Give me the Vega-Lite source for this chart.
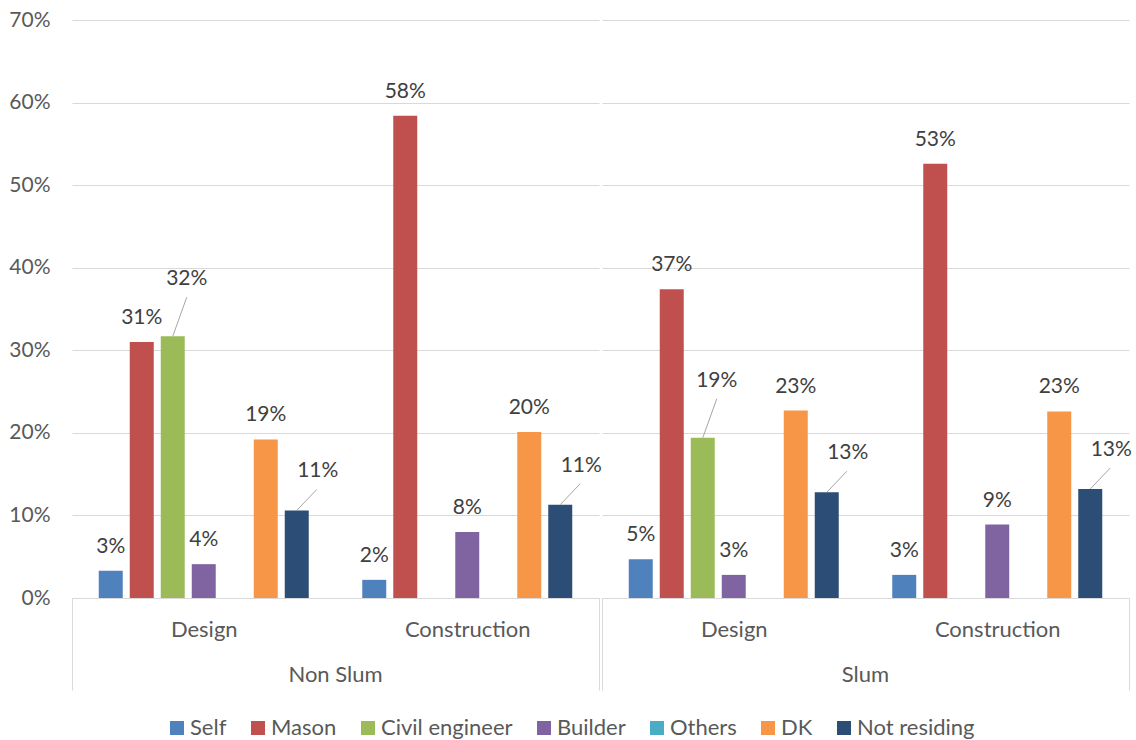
{
  "$schema": "https://vega.github.io/schema/vega-lite/v6.json",
  "background": "white",
  "padding": {"left": 8, "top": 9, "right": 9, "bottom": 5},
  "spacing": 0,
  "config": {
    "font": "Lato",
    "view": {"stroke": null},
    "legend": {"layout": {"bottom": {"anchor": "middle"}}}
  },
  "data": {
    "values": [
      {"Area": "Non Slum", "Phase": "Design", "Source": "Self", "Share": 0.033},
      {"Area": "Non Slum", "Phase": "Design", "Source": "Mason", "Share": 0.310},
      {"Area": "Non Slum", "Phase": "Design", "Source": "Civil engineer", "Share": 0.317},
      {"Area": "Non Slum", "Phase": "Design", "Source": "Builder", "Share": 0.041},
      {"Area": "Non Slum", "Phase": "Design", "Source": "Others", "Share": 0},
      {"Area": "Non Slum", "Phase": "Design", "Source": "DK", "Share": 0.192},
      {"Area": "Non Slum", "Phase": "Design", "Source": "Not residing", "Share": 0.106},
      {"Area": "Non Slum", "Phase": "Construction", "Source": "Self", "Share": 0.022},
      {"Area": "Non Slum", "Phase": "Construction", "Source": "Mason", "Share": 0.584},
      {"Area": "Non Slum", "Phase": "Construction", "Source": "Civil engineer", "Share": 0},
      {"Area": "Non Slum", "Phase": "Construction", "Source": "Builder", "Share": 0.080},
      {"Area": "Non Slum", "Phase": "Construction", "Source": "Others", "Share": 0},
      {"Area": "Non Slum", "Phase": "Construction", "Source": "DK", "Share": 0.201},
      {"Area": "Non Slum", "Phase": "Construction", "Source": "Not residing", "Share": 0.113},
      {"Area": "Slum", "Phase": "Design", "Source": "Self", "Share": 0.047},
      {"Area": "Slum", "Phase": "Design", "Source": "Mason", "Share": 0.374},
      {"Area": "Slum", "Phase": "Design", "Source": "Civil engineer", "Share": 0.194},
      {"Area": "Slum", "Phase": "Design", "Source": "Builder", "Share": 0.028},
      {"Area": "Slum", "Phase": "Design", "Source": "Others", "Share": 0},
      {"Area": "Slum", "Phase": "Design", "Source": "DK", "Share": 0.227},
      {"Area": "Slum", "Phase": "Design", "Source": "Not residing", "Share": 0.128},
      {"Area": "Slum", "Phase": "Construction", "Source": "Self", "Share": 0.028},
      {"Area": "Slum", "Phase": "Construction", "Source": "Mason", "Share": 0.526},
      {"Area": "Slum", "Phase": "Construction", "Source": "Civil engineer", "Share": 0},
      {"Area": "Slum", "Phase": "Construction", "Source": "Builder", "Share": 0.089},
      {"Area": "Slum", "Phase": "Construction", "Source": "Others", "Share": 0},
      {"Area": "Slum", "Phase": "Construction", "Source": "DK", "Share": 0.226},
      {"Area": "Slum", "Phase": "Construction", "Source": "Not residing", "Share": 0.132}
    ]
  },
  "facet": {
    "column": {
      "field": "Area",
      "type": "nominal",
      "sort": ["Non Slum", "Slum"],
      "header": {
        "title": null,
        "labelOrient": "bottom",
        "labelFont": "Lato",
        "labelFontSize": 22,
        "labelColor": "#595959",
        "labelPadding": -26
      }
    }
  },
  "spec": {
    "width": 527,
    "height": 578,
    "encoding": {
      "x": {
        "field": "Phase",
        "type": "nominal",
        "sort": ["Design", "Construction"],
        "scale": {"paddingInner": 0, "paddingOuter": 0},
        "axis": {
          "title": null,
          "labelAngle": 0,
          "labelFont": "Lato",
          "labelFontSize": 22,
          "labelColor": "#595959",
          "labelBaseline": "top",
          "labelPadding": -71,
          "domainColor": "#d9d9d9",
          "tickColor": "#d9d9d9",
          "tickSize": 92,
          "tickBand": "extent",
          "tickOpacity": {"condition": {"test": "datum.extra || datum.value === 'Construction'", "value": 1}, "value": 0}
        }
      },
      "xOffset": {
        "field": "Source",
        "type": "nominal",
        "sort": ["Self", "Mason", "Civil engineer", "Builder", "Others", "DK", "Not residing"],
        "scale": {"paddingInner": 0.226, "paddingOuter": 0.863}
      },
      "y": {
        "field": "Share",
        "type": "quantitative",
        "scale": {"domain": [0, 0.7]},
        "axis": {
          "title": null,
          "values": [0, 0.1, 0.2, 0.3, 0.4, 0.5, 0.6, 0.7],
          "format": ".0%",
          "domain": false,
          "ticks": false,
          "labelPadding": 22,
          "labelFont": "Lato",
          "labelFontSize": 21,
          "labelColor": "#595959",
          "gridColor": "#d9d9d9",
          "gridWidth": 1
        }
      }
    },
    "layer": [
      {
        "mark": {"type": "bar"},
        "encoding": {
          "color": {
            "field": "Source",
            "type": "nominal",
            "sort": ["Self", "Mason", "Civil engineer", "Builder", "Others", "DK", "Not residing"],
            "scale": {
              "domain": ["Self", "Mason", "Civil engineer", "Builder", "Others", "DK", "Not residing"],
              "range": ["#4f81bd", "#c0504d", "#9bbb59", "#8064a2", "#4bacc6", "#f79646", "#2c4d75"]
            },
            "legend": {
              "title": null,
              "orient": "bottom",
              "direction": "horizontal",
              "symbolType": "square",
              "symbolSize": 196,
              "symbolStrokeWidth": 0,
              "labelFont": "Lato",
              "labelFontSize": 22,
              "labelColor": "#595959",
              "labelOffset": 2,
              "columnPadding": 20,
              "offset": 26
            }
          }
        }
      },
      {
        "transform": [
          {"filter": "datum.Share > 0 && datum.Source !== 'Civil engineer' && datum.Source !== 'Not residing'"}
        ],
        "mark": {"type": "text", "baseline": "middle", "dy": -24, "fontSize": 21, "font": "Lato", "color": "#404040"},
        "encoding": {"text": {"field": "Share", "type": "quantitative", "format": ".0%"}}
      },
      {
        "transform": [{"filter": "datum.Share > 0 && datum.Source === 'Civil engineer'"}],
        "mark": {"type": "text", "baseline": "middle", "dx": 14, "dy": -57, "fontSize": 21, "font": "Lato", "color": "#404040"},
        "encoding": {"text": {"field": "Share", "type": "quantitative", "format": ".0%"}}
      },
      {
        "transform": [{"filter": "datum.Share > 0 && datum.Source === 'Civil engineer'"}],
        "mark": {"type": "point", "shape": "M0,0L0.7,-1.95", "size": 1600, "filled": false, "color": "#a6a6a6", "strokeWidth": 1, "opacity": 1}
      },
      {
        "transform": [{"filter": "datum.Share > 0 && datum.Source === 'Not residing'"}],
        "mark": {"type": "text", "baseline": "middle", "dx": 21, "dy": -39, "fontSize": 21, "font": "Lato", "color": "#404040"},
        "encoding": {"text": {"field": "Share", "type": "quantitative", "format": ".0%"}}
      },
      {
        "transform": [{"filter": "datum.Share > 0 && datum.Source === 'Not residing'"}],
        "mark": {"type": "point", "shape": "M0,0L1,-1.05", "size": 1600, "filled": false, "color": "#a6a6a6", "strokeWidth": 1, "opacity": 1}
      }
    ]
  }
}
